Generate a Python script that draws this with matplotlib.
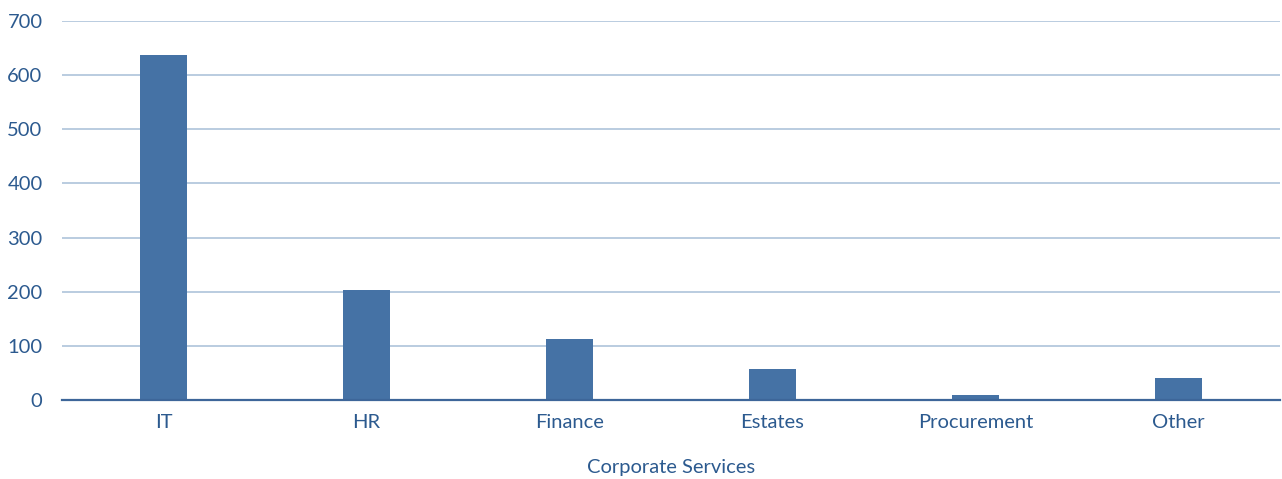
import matplotlib.pyplot as plt

categories = ["IT", "HR", "Finance", "Estates", "Procurement", "Other"]
values = [637, 203, 112, 57, 9, 40]
yticks = [0, 100, 200, 300, 400, 500, 600, 700]

text_col = "#2C5A8F"
plt.rcParams['font.family'] = ['Lato', 'DejaVu Sans']

fig = plt.figure(figsize=(12.82, 4.79), dpi=100)
ax = fig.add_axes([62 / 1282, 1 - 400 / 479, 1218 / 1282, 379 / 479])

x = range(len(categories))
ax.bar(x, values, width=0.227, color="#4572A5", zorder=3)

ax.set_xlim(-0.5, len(categories) - 0.5)
ax.set_ylim(0, 700)
ax.set_yticks(yticks)
ax.set_xticks(list(x))
ax.set_xticklabels(categories)
ax.yaxis.grid(True, color="#AEC3DA", lw=1.2, zorder=0)
ax.set_axisbelow(True)

for s in ['left', 'right', 'top']:
    ax.spines[s].set_visible(False)
ax.spines['bottom'].set_color("#3D6699")
ax.spines['bottom'].set_linewidth(1.6)
ax.spines['bottom'].set_zorder(4)

ax.tick_params(axis='both', length=0, labelsize=14.5, colors=text_col)
ax.tick_params(axis='x', pad=10)
ax.tick_params(axis='y', pad=14)
ax.set_xlabel("Corporate Services", fontsize=14.5, color=text_col, labelpad=20)

fig.savefig("out.png")
